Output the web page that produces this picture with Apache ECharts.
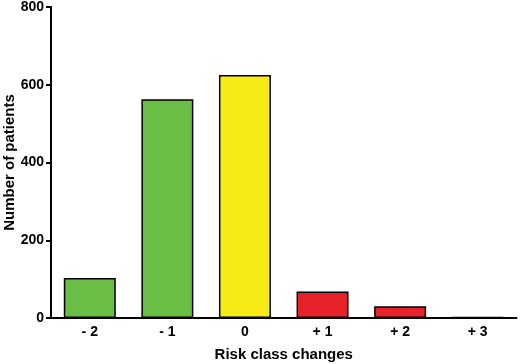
<!DOCTYPE html>
<html>
<head>
<meta charset="utf-8">
<script src="https://cdn.jsdelivr.net/npm/echarts@6/dist/echarts.min.js"></script>
<style>html,body{margin:0;padding:0;background:#fff;}#c{width:520px;height:364px;}</style>
</head>
<body>
<div id="c"></div>
<script>
const categories = ['- 2', '- 1', '0', '+ 1', '+ 2', '+ 3'];
const patients = [103, 563, 625, 68, 30, 2];
const barColors = ['#6abd45', '#6abd45', '#f6eb16', '#e8222a', '#e8222a', '#e8222a'];
const yTicks = [0, 200, 400, 600, 800];

const chart = echarts.init(document.getElementById('c'), null, {renderer: 'canvas'});
const font = '"Liberation Sans", Arial, sans-serif';
chart.setOption({
  animation: false,
  grid: {left: 51, right: 3.5, top: 7, bottom: 46, containLabel: false, outerBoundsMode: 'none'},
  xAxis: {
    type: 'category',
    data: categories,
    name: 'Risk class changes',
    nameLocation: 'middle',
    nameGap: 29,
    nameMoveOverlap: false,
    nameTextStyle: {fontFamily: font, fontWeight: 'bold', fontSize: 15, color: '#000'},
    axisLine: {lineStyle: {color: '#000', width: 2}},
    axisTick: {alignWithLabel: true, length: 5, lineStyle: {color: '#000', width: 2}},
    axisLabel: {fontFamily: font, fontWeight: 'bold', fontSize: 14, color: '#000', margin: 7}
  },
  yAxis: {
    type: 'value',
    min: yTicks[0],
    max: yTicks[yTicks.length - 1],
    interval: 200,
    name: 'Number of patients',
    nameLocation: 'middle',
    nameGap: 34,
    nameMoveOverlap: false,
    nameTextStyle: {fontFamily: font, fontWeight: 'bold', fontSize: 15, color: '#000'},
    axisLine: {show: true, lineStyle: {color: '#000', width: 2}},
    axisTick: {show: true, length: 5, lineStyle: {color: '#000', width: 2}},
    axisLabel: {fontFamily: font, fontWeight: 'bold', fontSize: 14, color: '#000', margin: 7},
    splitLine: {show: false}
  },
  series: [{
    type: 'bar',
    data: patients.map((v, i) => ({value: v, itemStyle: {color: barColors[i]}})),
    barWidth: '67%',
    itemStyle: {borderColor: '#000', borderWidth: 1.5}
  }]
});
</script>
</body>
</html>
